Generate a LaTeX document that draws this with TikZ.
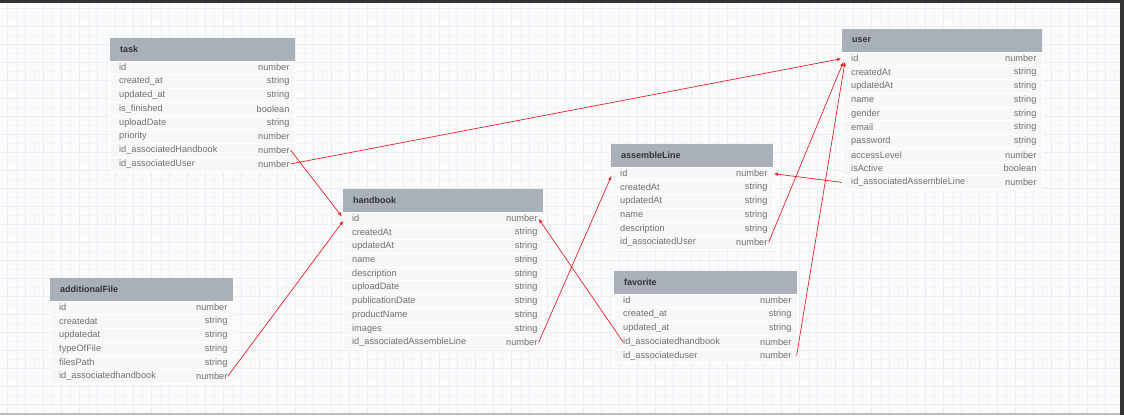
\documentclass[tikz,border=0pt]{standalone}
\usepackage{fontspec}
\setmainfont{Liberation Sans}
\usetikzlibrary{arrows.meta,calc}
\definecolor{hdr}{HTML}{A9B0B8}
\definecolor{hdrtxt}{HTML}{333333}
\definecolor{rowbg}{HTML}{F7F7F7}
\definecolor{rowline}{HTML}{FFFFFF}
\definecolor{fldtxt}{HTML}{707070}
\definecolor{gridminor}{HTML}{F3F4FA}
\definecolor{gridmajor}{HTML}{EAEDF8}
\definecolor{canvas}{HTML}{FBFBFC}
\definecolor{frame}{HTML}{333333}
\definecolor{rel}{HTML}{E8232A}
\tikzset{
  hdrbox/.style={fill=hdr, draw=none, inner sep=0pt, minimum height=22.5pt},
  hdrtext/.style={font=\bfseries\fontsize{9}{10}\selectfont, text=hdrtxt, inner sep=0pt},
  rowbox/.style={fill=rowbg, draw=rowline, line width=0.6pt, inner sep=0pt, minimum height=13.75pt},
  fieldtext/.style={font=\fontsize{9.2}{10}\selectfont, text=fldtxt, inner sep=0pt},
  typetext/.style={font=\fontsize{9.2}{10}\selectfont, text=fldtxt, inner sep=0pt},
  relline/.style={draw=rel, line width=0.7pt, -{Latex[length=4.5pt,width=3.5pt]}},
}
\newcommand{\ertable}[6]{%
  \node[hdrbox, minimum width=#4pt, anchor=north west] (#1-h) at (#2,#3) {};
  \node[hdrtext, anchor=west] (#1-title) at ([xshift=10pt]#1-h.west) {#5};
  \foreach [count=\i] \f/\t in {#6} {
    \pgfmathsetmacro\yy{#3+22.5+(\i-1)*13.75}
    \node[rowbox, minimum width=#4pt, anchor=north west] (#1-\i) at (#2,\yy) {};
    \node[fieldtext, anchor=west] (#1-\i-f) at ([xshift=9pt]#1-\i.west) {\f};
    \node[typetext, anchor=east] (#1-\i-t) at ([xshift=-6pt]#1-\i.east) {\t};
  }
}
\begin{document}
\begin{tikzpicture}[x=1pt,y=-1pt]
\useasboundingbox (0,0) rectangle (1124,415);
\fill[canvas] (0,0) rectangle (1124,415);
% grid
\foreach \k in {0,...,124} {
  \pgfmathsetmacro\gx{7.5+9*\k}
  \pgfmathtruncatemacro\ev{mod(\k,2)}
  \ifnum\ev=0
    \draw[gridmajor, line width=0.5pt] (\gx,0) -- (\gx,415);
  \else
    \draw[gridminor, line width=0.5pt] (\gx,0) -- (\gx,415);
  \fi
}
\foreach \k in {0,...,45} {
  \pgfmathsetmacro\gy{8.5+9*\k}
  \pgfmathtruncatemacro\ev{mod(\k,2)}
  \ifnum\ev=0
    \draw[gridmajor, line width=0.5pt] (0,\gy) -- (1124,\gy);
  \else
    \draw[gridminor, line width=0.5pt] (0,\gy) -- (1124,\gy);
  \fi
}
% frame bands
\fill[frame] (0,0) rectangle (1124,3);
\fill[frame] (1120,0) rectangle (1124,415);
\fill[black!25] (0,413) rectangle (1120,415);

\ertable{task}{110}{38}{185}{task}{id/number, created\_at/string, updated\_at/string, is\_finished/boolean, uploadDate/string, priority/number, id\_associatedHandbook/number, id\_associatedUser/number}
\ertable{user}{842}{29}{200}{user}{id/number, createdAt/string, updatedAt/string, name/string, gender/string, email/string, password/string, accessLevel/number, isActive/boolean, id\_associatedAssembleLine/number}
\ertable{handbook}{343}{189}{200}{handbook}{id/number, createdAt/string, updatedAt/string, name/string, description/string, uploadDate/string, publicationDate/string, productName/string, images/string, id\_associatedAssembleLine/number}
\ertable{assembleLine}{611}{144}{162}{assembleLine}{id/number, createdAt/string, updatedAt/string, name/string, description/string, id\_associatedUser/number}
\ertable{favorite}{614}{271}{183}{favorite}{id/number, created\_at/string, updated\_at/string, id\_associatedhandbook/number, id\_associateduser/number}
\ertable{additionalFile}{50}{278}{183}{additionalFile}{id/number, createdat/string, updatedat/string, typeOfFile/string, filesPath/string, id\_associatedhandbook/number}

% relations
\draw[relline] ([xshift=-5pt]task-7.east) -- ([xshift=-1pt,yshift=2pt]handbook-1.west);
\draw[relline] ([xshift=-5pt]task-8.east) -- ([xshift=-0.5pt]user-1.west);
\draw[relline] ([xshift=-6pt]additionalFile-6.east) -- ([xshift=0.5pt,yshift=-2pt]handbook-1.west);
\draw[relline] ([xshift=-5pt]handbook-10.east) -- ([xshift=0.5pt,yshift=-2pt]assembleLine-1.west);
\draw[relline] ([xshift=9pt]favorite-4.west) -- ([xshift=-5pt]handbook-1.east);
\draw[relline] ([xshift=-5pt]assembleLine-6.east) -- ([xshift=1.5pt,yshift=-3pt]user-1.west);
\draw[relline] (user-10.west) -- (assembleLine-1.east);
\draw[relline] ([xshift=-1pt]favorite-5.east) -- ([xshift=3pt,yshift=-3pt]user-1.west);
\end{tikzpicture}
\end{document}
